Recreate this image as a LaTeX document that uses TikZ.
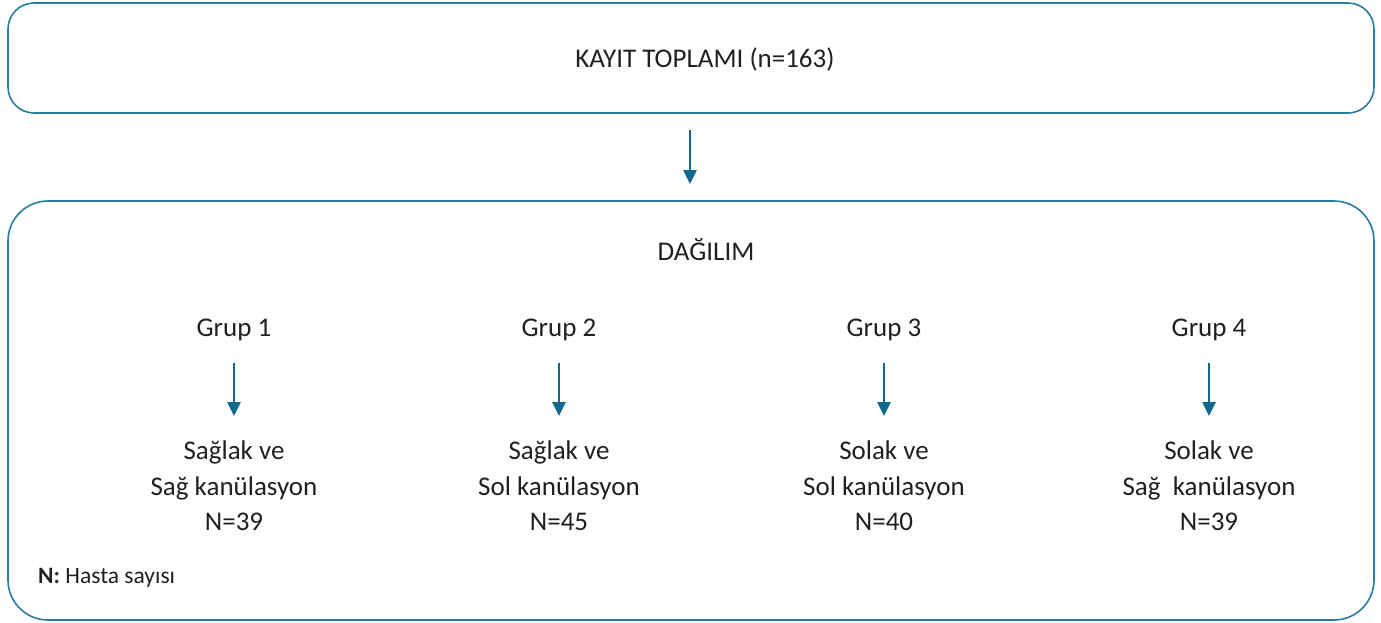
\documentclass[tikz,border=0pt]{standalone}
\usepackage{fontspec}
\setmainfont{Carlito}
\usetikzlibrary{arrows.meta}
\definecolor{boxblue}{HTML}{2A7BA0}
\definecolor{arrblue}{HTML}{0F6A8E}
\definecolor{txt}{HTML}{231F20}
\begin{document}
\begin{tikzpicture}[x=1pt,y=-1pt,
  frame/.style={draw=boxblue,line width=1.6pt},
  arr/.style={draw=arrblue,line width=2.6pt,-{Triangle[length=14pt,width=13pt]}},
  lbl/.style={text=txt,font=\fontsize{27}{30}\selectfont,inner sep=0pt},
  grp/.style={text=txt,font=\fontsize{27}{35.5}\selectfont,align=center,inner sep=0pt}]
\useasboundingbox (0,0) rectangle (1381,623);
\draw[frame,rounded corners=26pt] (8,3) rectangle (1374,113);
\draw[frame,rounded corners=40pt] (8,201) rectangle (1374,620);
\node[lbl] (top) at (705,59) {KAYIT TOPLAMI (n=163)};
\coordinate (a0) at (690,130);
\coordinate (a1) at (690,184);
\draw[arr] (a0) -- (a1);
\node[lbl] (dag) at (706,250) {DAĞILIM};
\foreach \x/\n/\l/\m/\N in {234/1/Sağlak ve/Sağ kanülasyon/N=39,559/2/Sağlak ve/Sol kanülasyon/N=45,884/3/Solak ve/Sol kanülasyon/N=40,1209/4/Solak ve/Sağ\ \ kanülasyon/N=39}{
  \node[lbl] (g\n) at (\x,330) {Grup \n};
  \coordinate (s\n) at (\x,363);
  \coordinate (e\n) at (\x,416);
  \draw[arr] (s\n) -- (e\n);
  \node[grp] (t\n) at (\x,486) {\l\\\m\\\N};
}
\node[text=txt,font=\fontsize{23.5}{26}\selectfont,anchor=west,inner sep=0pt] (leg) at (38,578) {\textbf{N:} Hasta sayısı};
\end{tikzpicture}
\end{document}
